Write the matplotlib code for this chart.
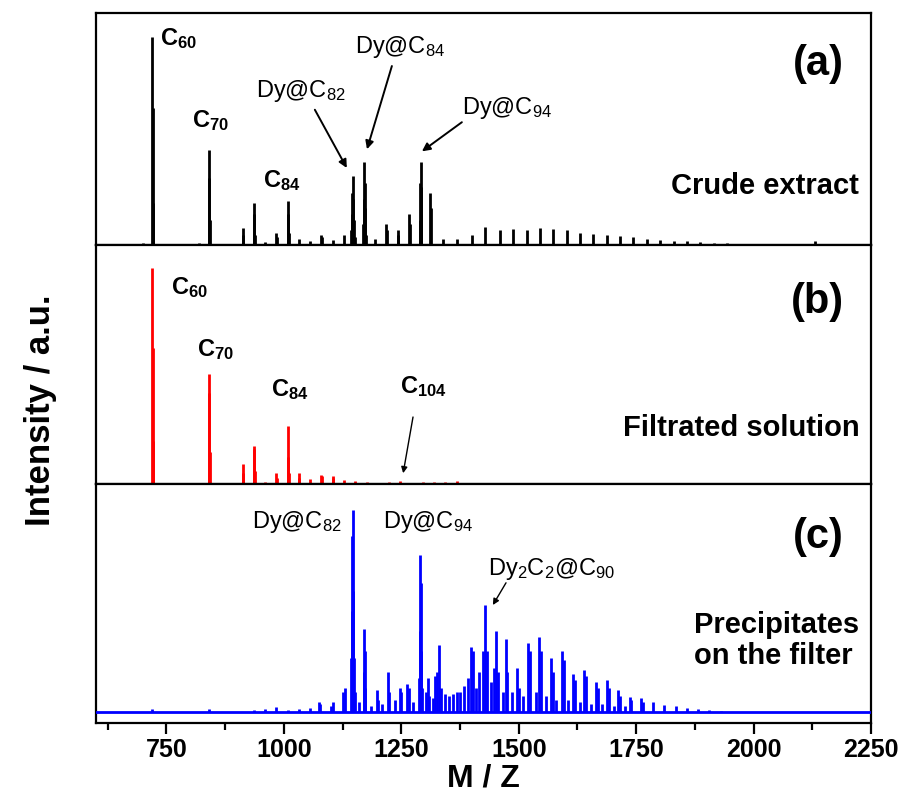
import numpy as np
import matplotlib
matplotlib.use("Agg")
import matplotlib.pyplot as plt
from matplotlib.ticker import MultipleLocator

plt.rcParams['font.family'] = ['Liberation Sans', 'DejaVu Sans']
plt.rcParams['mathtext.fontset'] = 'custom'
plt.rcParams['mathtext.rm'] = 'Liberation Sans'
plt.rcParams['mathtext.bf'] = 'Liberation Sans:bold'
plt.rcParams['mathtext.default'] = 'rm'

# ---- data (m/z, relative intensity) ----
# (a) crude extract, black
mz_a = [700, 720, 721, 722, 820, 840, 841, 842, 912, 913, 936, 937, 938, 960,
        984, 985, 1008, 1009, 1010, 1032, 1056, 1080, 1082, 1104, 1128,
        1143, 1145, 1146, 1147, 1148, 1149, 1151, 1169, 1170, 1171, 1172, 1173, 1175,
        1194, 1218, 1220, 1242, 1244, 1266, 1268,
        1289, 1290, 1291, 1292, 1293, 1312, 1314,
        1339, 1368, 1400, 1428, 1460, 1488, 1517, 1545, 1573, 1602, 1631, 1659,
        1688, 1716, 1744, 1773, 1801, 1830, 1858, 1886, 1915, 1943, 1972, 2000, 2131]
int_a = [0.01, 1.0, 0.66, 0.2, 0.01, 0.457, 0.32, 0.12, 0.08, 0.05, 0.2, 0.15, 0.05, 0.015,
         0.06, 0.04, 0.21, 0.15, 0.06, 0.03, 0.02, 0.05, 0.04, 0.025, 0.05,
         0.07, 0.15, 0.25, 0.33, 0.22, 0.12, 0.04, 0.1, 0.22, 0.40, 0.3, 0.18, 0.05,
         0.03, 0.10, 0.07, 0.07, 0.05, 0.15, 0.1,
         0.12, 0.3, 0.40, 0.28, 0.15, 0.25, 0.18,
         0.03, 0.03, 0.05, 0.085, 0.07, 0.075, 0.07, 0.08, 0.075, 0.07, 0.06, 0.055,
         0.05, 0.045, 0.04, 0.03, 0.025, 0.02, 0.018, 0.015, 0.01, 0.008, 0.006, 0.005, 0.02]

# (b) filtrated solution, red
mz_b = [720, 721, 722, 840, 841, 842, 912, 913, 936, 937, 938, 960, 984, 985,
        1008, 1009, 1010, 1032, 1033, 1056, 1080, 1081, 1104, 1105, 1128, 1152,
        1176, 1200, 1224, 1248, 1272, 1296, 1320, 1344, 1368]
int_b = [1.0, 0.63, 0.2, 0.51, 0.42, 0.15, 0.093, 0.05, 0.176, 0.16, 0.06, 0.01, 0.05, 0.03,
         0.27, 0.125, 0.05, 0.05, 0.03, 0.025, 0.04, 0.035, 0.037, 0.03, 0.018, 0.012,
         0.008, 0.004, 0.008, 0.012, 0.004, 0.01, 0.01, 0.01, 0.012]

# (c) precipitates on the filter, blue
mz_c = [720, 840, 936, 960, 984, 1008, 1032, 1056, 1075, 1078, 1100, 1105, 1126, 1130,
        1144, 1145, 1146, 1147, 1148, 1149, 1151, 1160, 1170, 1171, 1172, 1173, 1185,
        1198, 1200, 1210, 1222, 1224, 1236, 1248, 1250, 1262, 1266, 1276,
        1288, 1289, 1290, 1291, 1292, 1294, 1302, 1306, 1310,
        1318, 1322, 1326, 1330, 1334, 1344, 1352, 1360, 1368, 1376, 1384,
        1392, 1398, 1402, 1410, 1416, 1424, 1428, 1432, 1440, 1448, 1452, 1456,
        1466, 1472, 1476, 1486, 1496, 1500, 1510, 1520, 1524, 1536, 1544, 1548,
        1558, 1568, 1572, 1580, 1592, 1596, 1606, 1616, 1620, 1630, 1640, 1644,
        1654, 1664, 1668, 1678, 1688, 1692, 1702, 1712, 1716, 1726, 1736, 1740,
        1760, 1764, 1786, 1810, 1834, 1858, 1882, 1906, 1930]
int_c = [0.015, 0.015, 0.01, 0.015, 0.025, 0.01, 0.015, 0.02, 0.05, 0.04, 0.03, 0.05, 0.1, 0.12,
         0.27, 0.5, 0.87, 1.0, 0.6, 0.27, 0.1, 0.05, 0.2, 0.41, 0.3, 0.12, 0.03,
         0.11, 0.06, 0.04, 0.2, 0.1, 0.06, 0.12, 0.1, 0.14, 0.12, 0.05,
         0.17, 0.4, 0.78, 0.64, 0.3, 0.12, 0.1, 0.17, 0.08,
         0.07, 0.18, 0.2, 0.33, 0.12, 0.09, 0.08, 0.09, 0.1, 0.1, 0.13,
         0.17, 0.32, 0.3, 0.12, 0.2, 0.3, 0.53, 0.3, 0.15, 0.22, 0.4, 0.2,
         0.1, 0.36, 0.2, 0.1, 0.22, 0.12, 0.08, 0.34, 0.3, 0.1, 0.37, 0.3,
         0.08, 0.27, 0.2, 0.06, 0.3, 0.26, 0.06, 0.19, 0.16, 0.05, 0.21, 0.18,
         0.04, 0.15, 0.12, 0.04, 0.16, 0.12, 0.03, 0.11, 0.08, 0.03, 0.075, 0.06,
         0.07, 0.05, 0.05, 0.035, 0.03, 0.02, 0.015, 0.01, 0.006]

xticks = [750, 1000, 1250, 1500, 1750, 2000, 2250]

fig = plt.figure(figsize=(9.02, 7.96), dpi=100)
gs = fig.add_gridspec(3, 1, height_ratios=[232, 239, 239], hspace=0,
                      left=0.1064, right=0.9656, top=0.9837, bottom=0.0917)
axes = [fig.add_subplot(gs[i]) for i in range(3)]

specs = [(mz_a, int_a, 'black', (0, 1.115)),
         (mz_b, int_b, 'red', (0, 1.106)),
         (mz_c, int_c, 'blue', (-0.054, 1.129))]

for ax, (mz, inten, col, yl) in zip(axes, specs):
    ax.vlines(mz, 0, inten, color=col, lw=2.0)
    ax.axhline(0, color=col, lw=2, zorder=3)
    ax.set_xlim(600, 2250)
    ax.set_ylim(*yl)
    ax.set_yticks([])
    for s in ax.spines.values():
        s.set_linewidth(1.6)

for ax in axes[:2]:
    ax.tick_params(axis='x', which='both', bottom=False, labelbottom=False)

ax = axes[2]
ax.set_xticks(xticks)
ax.xaxis.set_minor_locator(MultipleLocator(125))
ax.tick_params(axis='x', which='major', direction='out', length=8, width=1.6,
               labelsize=18, pad=3)
ax.tick_params(axis='x', which='minor', direction='out', length=5, width=1.6)
for lab in ax.get_xticklabels():
    lab.set_fontweight('bold')
ax.set_xlabel('M / Z', fontsize=23, fontweight='bold', labelpad=1)

fig.text(0.045, 0.485, 'Intensity / a.u.', rotation=90, fontsize=25,
         fontweight='bold', ha='center', va='center')

arrow = dict(arrowstyle='-|>', color='black', lw=1.4, mutation_scale=12,
             shrinkA=0, shrinkB=0)

# panel (a)
ax = axes[0]
ax.text(736, 0.99, r'C$_{\mathbf{60}}$', fontsize=17, fontweight='bold', va='center')
ax.text(804, 0.60, r'C$_{\mathbf{70}}$', fontsize=17, fontweight='bold', va='center')
ax.text(955, 0.31, r'C$_{\mathbf{84}}$', fontsize=17, fontweight='bold', va='center')
ax.text(941, 0.74, r'Dy@C$_{82}$', fontsize=17, va='center')
ax.text(1151, 0.95, r'Dy@C$_{84}$', fontsize=17, va='center')
ax.text(1379, 0.66, r'Dy@C$_{94}$', fontsize=17, va='center')
ax.annotate('', xy=(1134, 0.37), xytext=(1066, 0.65), arrowprops=arrow)
ax.annotate('', xy=(1177, 0.46), xytext=(1230, 0.86), arrowprops=arrow)
ax.annotate('', xy=(1294, 0.45), xytext=(1379, 0.59), arrowprops=arrow)
ax.text(0.965, 0.78, '(a)', transform=ax.transAxes, fontsize=30, fontweight='bold',
        ha='right', va='center')
ax.text(0.985, 0.255, 'Crude extract', transform=ax.transAxes, fontsize=21,
        fontweight='bold', ha='right', va='center')

# panel (b)
ax = axes[1]
ax.text(760, 0.91, r'C$_{\mathbf{60}}$', fontsize=17, fontweight='bold', va='center')
ax.text(815, 0.62, r'C$_{\mathbf{70}}$', fontsize=17, fontweight='bold', va='center')
ax.text(973, 0.435, r'C$_{\mathbf{84}}$', fontsize=17, fontweight='bold', va='center')
ax.text(1247, 0.45, r'C$_{\mathbf{104}}$', fontsize=17, fontweight='bold', va='center')
ax.annotate('', xy=(1254, 0.05), xytext=(1275, 0.31),
            arrowprops=dict(arrow, lw=1.0, mutation_scale=9))
ax.text(0.965, 0.76, '(b)', transform=ax.transAxes, fontsize=30, fontweight='bold',
        ha='right', va='center')
ax.text(0.985, 0.235, 'Filtrated solution', transform=ax.transAxes, fontsize=21,
        fontweight='bold', ha='right', va='center')

# panel (c)
ax = axes[2]
ax.text(932, 0.94, r'Dy@C$_{82}$', fontsize=17, va='center')
ax.text(1211, 0.94, r'Dy@C$_{94}$', fontsize=17, va='center')
ax.text(1435, 0.71, r'Dy$_2$C$_2$@C$_{90}$', fontsize=17, va='center')
ax.annotate('', xy=(1445, 0.53), xytext=(1473, 0.64),
            arrowprops=dict(arrow, lw=1.0, mutation_scale=9))
ax.text(0.965, 0.78, '(c)', transform=ax.transAxes, fontsize=30, fontweight='bold',
        ha='right', va='center')
ax.text(0.985, 0.345, 'Precipitates\non the filter', transform=ax.transAxes,
        fontsize=21, fontweight='bold', ha='right', va='center',
        multialignment='left', linespacing=1.15)

fig.savefig('out.png', dpi=100)
